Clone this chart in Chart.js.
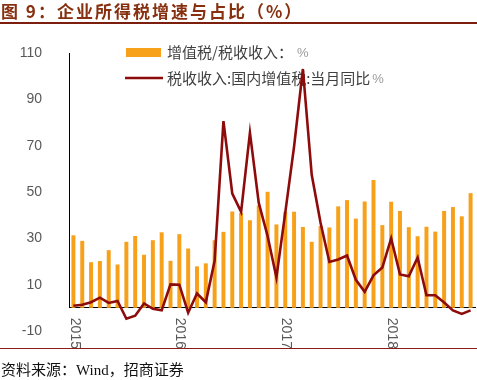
<!DOCTYPE html>
<html>
<head>
<meta charset="utf-8">
<script src="https://cdn.jsdelivr.net/npm/chart.js@4.4.1/dist/chart.umd.min.js"></script>
<style>
body{margin:0;background:#fff;}
#wrap{position:relative;width:477px;height:380px;overflow:hidden;}
#title{position:absolute;left:0;top:0;width:477px;height:24px;border-bottom:2px solid #7B1E0E;
  font:bold 17px "Noto Sans CJK SC",sans-serif;letter-spacing:2px;color:#86300F;line-height:22px;padding-left:1px;box-sizing:border-box;}
#src{position:absolute;left:0;top:348px;width:477px;height:32px;border-top:1px solid #8B1A1A;
  font:15px "Liberation Serif","Noto Sans CJK SC",serif;color:#111;line-height:20px;padding-top:11px;padding-left:1px;box-sizing:border-box;}
canvas{position:absolute;left:0;top:0;}
</style>
</head>
<body>
<div id="wrap">
  <canvas id="c" width="477" height="380"></canvas>
  <div id="title">图 9：企业所得税增速与占比（%）</div>
  <div id="src">资料来源：Wind，招商证券</div>
</div>
<script>
const months=['2015-01','2015-02','2015-03','2015-04','2015-05','2015-06','2015-07','2015-08','2015-09','2015-10','2015-11','2015-12',
  '2016-01','2016-02','2016-03','2016-04','2016-05','2016-06','2016-07','2016-08','2016-09','2016-10','2016-11','2016-12',
  '2017-01','2017-02','2017-03','2017-04','2017-05','2017-06','2017-07','2017-08','2017-09','2017-10','2017-11','2017-12',
  '2018-01','2018-02','2018-03','2018-04','2018-05','2018-06','2018-07','2018-08','2018-09','2018-10'];
// 增值税/税收收入 (%)
const vatShare=[31.3,28.9,19.7,20.2,24.9,18.7,28.5,31.0,22.9,29.2,32.6,20.3,
  31.8,25.6,17.9,19.2,29.2,32.8,41.6,41.0,37.8,44.2,50.1,36.0,
  41.5,41.5,34.9,28.5,35.3,34.7,43.8,46.5,38.5,45.9,55.2,35.7,
  45.8,41.8,34.8,30.9,35.0,32.9,41.8,43.5,39.5,49.5];
// 国内增值税 当月同比 (%)
const vatYoY=[0.9,1.3,2.4,4.4,2.1,3.0,-4.7,-3.4,1.9,-0.4,-1.1,10.1,
  10.0,-2.1,6.2,2.4,20.3,80.6,49.3,41.4,75.6,45.3,31.0,13.1,
  41.0,69.6,103.1,57.4,36.7,19.8,20.9,22.6,12.1,6.9,14.0,17.4,
  30.0,14.4,13.6,21.7,5.4,5.4,2.3,-1.1,-2.6,-1.1];
const yTicks=[-10,10,30,50,70,90,110];
const yearLabels=['2015','2016','2017','2018'];
const barLabel='增值税/税收收入：';
const lineLabel='税收收入:国内增值税:当月同比';
const BAR_COLOR='#F7A11A', LINE_COLOR='#8E0B0B';

const decor={
  id:'decor',
  beforeDatasetsDraw(chart){
    const {ctx,chartArea:a,scales:{y}}=chart;
    ctx.save();
    // y axis line from 0 to top
    ctx.strokeStyle='#000';ctx.lineWidth=1;
    ctx.beginPath();ctx.moveTo(a.left+0.5,y.getPixelForValue(110));ctx.lineTo(a.left+0.5,y.getPixelForValue(0));ctx.stroke();
    // legend
    ctx.fillStyle=BAR_COLOR;ctx.fillRect(126,48,35,9);
    ctx.strokeStyle=LINE_COLOR;ctx.lineWidth=2.6;
    ctx.beginPath();ctx.moveTo(125,78);ctx.lineTo(163,78);ctx.stroke();
    ctx.textBaseline='middle';ctx.textAlign='left';
    ctx.font='15px "Noto Sans CJK SC"';ctx.fillStyle='#404040';
    ctx.fillText(barLabel,167,52.5);
    let w=ctx.measureText(barLabel).width;
    ctx.fillText(lineLabel,167,78);
    let w2=ctx.measureText(lineLabel).width;
    ctx.font='13px "Liberation Sans"';ctx.fillStyle='#9a9a9a';
    ctx.fillText('%',167+w+4,53.5);
    ctx.fillText('%',167+w2+2,79);
    ctx.restore();
  },
  afterDraw(chart){
    const {ctx,scales:{x,y}}=chart;
    ctx.save();
    ctx.font='14px "Liberation Sans"';ctx.fillStyle='#595959';
    ctx.textAlign='left';ctx.textBaseline='middle';
    const y0=y.getPixelForValue(0)+10;
    yearLabels.forEach(yr=>{
      const px=x.getPixelForValue(months.indexOf(yr+'-01'));
      ctx.save();ctx.translate(px+1,y0);ctx.rotate(Math.PI/2);ctx.fillText(yr,0,0);ctx.restore();
    });
    ctx.restore();
  }
};

new Chart(document.getElementById('c'),{
  data:{labels:months,datasets:[
    {type:'line',label:lineLabel,data:vatYoY,borderColor:LINE_COLOR,borderWidth:2.6,pointRadius:0,tension:0,order:0},
    {type:'bar',label:barLabel,data:vatShare,backgroundColor:BAR_COLOR,categoryPercentage:1,barPercentage:0.45,order:1}
  ]},
  options:{
    responsive:false,animation:false,
    layout:{padding:{top:53,bottom:49,left:0,right:2}},
    plugins:{legend:{display:false},tooltip:{enabled:false}},
    scales:{
      x:{position:{y:0},grid:{display:false},ticks:{display:false},
         border:{display:true,color:'#000',width:1},afterFit:s=>{s.height=0;}},
      y:{min:-10,max:110,grid:{display:false},border:{display:false},
         afterBuildTicks:s=>{s.ticks=yTicks.map(v=>({value:v}));},
         ticks:{color:'#595959',font:{family:'Liberation Sans',size:14},padding:19},
         afterFit:s=>{s.width=69;}}
    }
  },
  plugins:[decor]
});
</script>
</body>
</html>
